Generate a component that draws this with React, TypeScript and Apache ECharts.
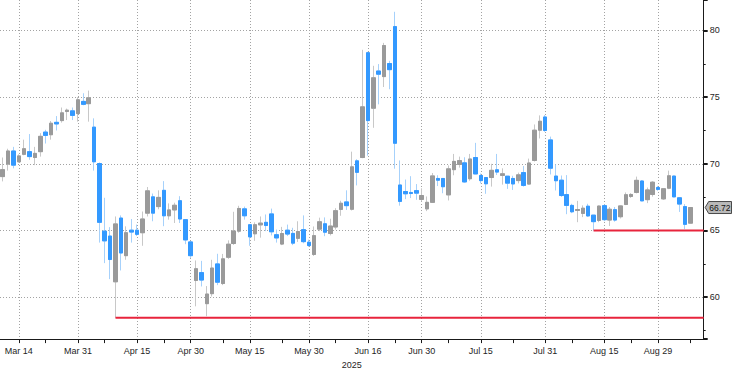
import React, { useEffect, useRef } from "react";
import * as echarts from "echarts";

const dates = [
  "2025-03-11","2025-03-12","2025-03-13","2025-03-14","2025-03-17","2025-03-18","2025-03-19","2025-03-20","2025-03-21","2025-03-24","2025-03-25","2025-03-26","2025-03-27","2025-03-28","2025-03-31",
  "2025-04-01","2025-04-02","2025-04-03","2025-04-04","2025-04-07","2025-04-08","2025-04-09","2025-04-10","2025-04-11","2025-04-14","2025-04-15","2025-04-16","2025-04-17","2025-04-21","2025-04-22","2025-04-23","2025-04-24","2025-04-25","2025-04-28","2025-04-29","2025-04-30",
  "2025-05-01","2025-05-02","2025-05-05","2025-05-06","2025-05-07","2025-05-08","2025-05-09","2025-05-12","2025-05-13","2025-05-14","2025-05-15","2025-05-16","2025-05-19","2025-05-20","2025-05-21","2025-05-22","2025-05-23","2025-05-26","2025-05-27","2025-05-28","2025-05-29","2025-05-30",
  "2025-06-02","2025-06-03","2025-06-04","2025-06-05","2025-06-06","2025-06-09","2025-06-10","2025-06-11","2025-06-12","2025-06-13","2025-06-16","2025-06-17","2025-06-18","2025-06-19","2025-06-20","2025-06-23","2025-06-24","2025-06-25","2025-06-26","2025-06-27","2025-06-30",
  "2025-07-01","2025-07-02","2025-07-03","2025-07-04","2025-07-07","2025-07-08","2025-07-09","2025-07-10","2025-07-11","2025-07-14","2025-07-15","2025-07-16","2025-07-17","2025-07-18","2025-07-21","2025-07-22","2025-07-23","2025-07-24","2025-07-25","2025-07-28","2025-07-29","2025-07-30","2025-07-31",
  "2025-08-01","2025-08-04","2025-08-05","2025-08-06","2025-08-07","2025-08-08","2025-08-11","2025-08-12","2025-08-13","2025-08-14","2025-08-15","2025-08-18","2025-08-19","2025-08-20","2025-08-21","2025-08-22","2025-08-25","2025-08-26","2025-08-27","2025-08-28","2025-08-29",
  "2025-09-01","2025-09-02","2025-09-03","2025-09-04","2025-09-05","2025-09-08",
];

const opens = [
  69.04,69.98,70.96,70.15,70.71,70.91,70.47,70.91,72.38,72.18,73.11,73.24,73.92,73.97,73.77,
  74.68,74.51,72.75,70.02,64.95,64.58,61.15,65.93,63.11,65.02,65.02,64.83,66.30,67.52,66.79,68.01,66.10,66.54,67.23,65.81,64.14,
  61.25,61.84,59.51,60.26,62.49,61.02,62.99,64.02,64.95,66.62,65.43,64.75,65.42,65.61,66.24,64.68,63.98,65.02,64.78,64.41,65.06,64.12,
  63.20,65.10,65.50,64.77,65.26,66.58,67.14,66.59,70.22,70.47,78.33,74.17,76.96,76.54,77.52,80.29,68.41,67.92,67.85,67.99,67.33,
  66.62,67.11,68.90,68.90,67.67,69.56,69.95,70.07,68.88,70.47,69.12,68.97,68.97,69.55,69.13,69.07,68.90,68.74,69.34,68.48,70.25,72.52,73.51,
  71.79,69.08,68.77,67.69,66.88,66.50,66.28,66.82,66.15,65.75,66.86,65.78,66.56,66.03,66.95,67.55,67.85,68.71,67.31,67.70,68.22,
  67.37,68.17,69.08,67.45,66.79,65.55,
];

const closes = [
  69.56,70.96,69.90,70.59,71.13,70.54,70.78,72.06,72.13,73.04,72.99,73.82,74.02,73.63,74.80,
  74.46,74.95,70.15,65.61,64.22,62.82,65.49,63.31,64.83,64.88,64.71,65.86,67.97,66.30,67.48,66.10,66.54,66.89,65.86,64.29,63.11,
  62.13,61.28,60.23,62.18,61.12,62.87,63.97,64.96,66.65,66.10,64.52,65.43,65.55,65.37,64.90,64.44,64.77,64.73,64.05,64.92,64.16,63.87,
  64.61,65.65,64.87,65.33,66.48,67.04,66.86,69.77,69.36,74.27,73.24,76.45,76.72,78.87,77.06,71.54,67.18,67.75,67.77,67.80,67.62,
  67.11,69.09,68.77,68.28,69.62,70.18,70.24,68.64,70.36,69.24,68.74,68.50,69.51,69.38,69.25,68.55,68.49,69.17,68.38,70.06,72.52,73.19,72.50,
  69.67,68.73,67.62,66.88,66.40,66.57,66.67,66.09,65.66,66.83,65.81,66.59,65.78,66.84,67.68,67.70,68.76,67.22,68.04,68.62,68.08,
  68.13,69.10,67.52,66.98,65.46,66.72,
];

const lows = [
  68.68,69.49,69.66,70.10,70.64,70.30,69.90,70.54,71.52,71.81,72.50,73.09,73.28,73.28,73.16,
  74.39,73.16,69.49,64.09,62.55,61.35,58.45,62.00,62.80,64.09,64.58,63.85,66.05,65.69,66.59,65.32,65.81,65.56,65.56,63.97,62.94,
  59.31,60.80,58.57,60.05,60.90,60.90,62.87,63.92,64.83,65.81,63.85,64.22,64.46,64.95,64.63,64.09,63.90,64.58,63.90,64.14,64.04,63.77,
  63.09,64.95,64.57,64.63,65.07,66.10,66.54,66.50,68.38,70.42,70.61,72.70,74.46,75.76,75.59,69.63,66.86,67.35,67.43,67.30,67.18,
  66.45,67.06,68.33,67.79,67.25,69.14,69.71,68.58,68.73,69.22,68.53,67.75,68.29,69.16,68.44,68.12,68.04,68.53,68.29,68.44,70.17,71.90,72.40,
  69.20,68.00,67.52,66.22,66.30,65.62,66.00,66.02,64.98,65.62,65.70,65.34,65.66,65.90,66.90,67.44,67.78,67.20,67.05,67.54,67.98,
  67.29,68.10,67.50,66.39,65.10,65.54,
];

const highs = [
  70.47,71.13,71.27,70.71,71.81,72.23,71.27,72.30,72.55,73.21,73.58,74.22,74.14,74.22,75.00,
  75.29,75.49,73.41,70.10,67.45,65.25,66.05,66.13,65.31,65.86,65.44,66.42,68.26,67.77,68.01,68.70,67.03,67.08,67.57,65.81,64.20,
  62.75,62.72,60.83,62.80,63.25,63.24,64.26,66.40,66.85,66.79,65.44,65.61,66.05,66.20,66.64,65.07,65.27,65.44,65.20,65.69,66.13,64.31,
  65.30,65.96,65.98,65.88,66.67,67.23,68.01,70.91,70.34,78.55,78.40,77.35,77.48,79.07,77.72,81.40,70.25,68.82,69.07,68.48,68.16,
  67.55,69.31,69.14,68.92,69.88,70.74,70.54,70.49,70.74,71.57,69.27,69.00,70.00,70.74,69.66,69.08,69.10,69.34,69.83,70.39,72.95,73.63,73.65,
  72.04,69.95,69.12,69.15,67.00,67.22,66.88,67.00,66.16,66.87,66.95,66.76,66.76,66.88,67.85,67.80,69.04,68.76,68.22,68.70,68.34,
  68.17,69.49,69.10,67.49,66.98,66.76,
];

// empty trading days after the last bar (axis runs a little past the data)
const padDates = ["2025-09-09", "2025-09-10"];

const labelDates = [
  "2025-03-14","2025-03-31","2025-04-15","2025-04-30","2025-05-15","2025-05-30",
  "2025-06-16","2025-06-30","2025-07-15","2025-07-31","2025-08-15","2025-08-29",
];
const minorTickDates = [
  "2025-03-21","2025-04-07","2025-04-23","2025-05-08","2025-05-23","2025-06-06",
  "2025-06-23","2025-07-07","2025-07-23","2025-08-07","2025-08-22","2025-09-08",
];
const yearLabel = "2025";

const supportStartDates = ["2025-04-09", "2025-08-13"];
const supportLevels = [58.45, 65.0];

const lastPrice = 66.72;

const MONTHS = ["Jan","Feb","Mar","Apr","May","Jun","Jul","Aug","Sep","Oct","Nov","Dec"];
const fmtDate = (s: string) => {
  const [, m, d] = s.split("-");
  return `${MONTHS[parseInt(m, 10) - 1]} ${parseInt(d, 10)}`;
};

const GREY_BODY = "#9a9a9a";
const GREY_WICK = "#c8c8c8";
const BLUE_BODY = "#3399ff";
const BLUE_WICK = "#a6d1fb";
const RED = "#e8243c";
const FONT = "Liberation Sans";
const TEXT = "#1e1e1e";
const GRIDC = "#a3a3a3";

export default function App() {
  const ref = useRef<HTMLDivElement>(null);

  useEffect(() => {
    if (!ref.current) return;
    const chart = echarts.init(ref.current, undefined, { renderer: "svg" });
    const categories = [...dates, ...padDates];
    const wickData = dates.map((_, i) => [opens[i], closes[i], lows[i], highs[i]]);
    const bodyData = dates.map((_, i) => [
      opens[i], closes[i], Math.min(opens[i], closes[i]), Math.max(opens[i], closes[i]),
    ]);

    chart.setOption({
      animation: false,
      backgroundColor: "#ffffff",
      grid: { left: -0.8, right: 28.3, top: 0, bottom: 29, containLabel: false },
      xAxis: {
        type: "category",
        data: categories,
        boundaryGap: true,
        name: yearLabel,
        nameLocation: "middle",
        nameGap: 20,
        nameTextStyle: { color: TEXT, fontSize: 9, fontFamily: FONT },
        axisLine: { show: true, lineStyle: { color: "#1a1a1a", width: 1 } },
        axisTick: {
          show: true,
          alignWithLabel: true,
          length: 4,
          interval: (_i: number, v: string) => labelDates.includes(v) || minorTickDates.includes(v),
          lineStyle: { color: "#1a1a1a" },
        },
        axisLabel: {
          interval: (_i: number, v: string) => labelDates.includes(v),
          formatter: (v: string) => fmtDate(v),
          color: TEXT,
          fontSize: 9,
          fontFamily: FONT,
          margin: 7,
        },
        splitLine: {
          show: true,
          alignWithLabel: true,
          interval: (_i: number, v: string) => labelDates.includes(v),
          lineStyle: { color: GRIDC, type: [1, 2], width: 1 },
        },
      },
      yAxis: {
        type: "value",
        position: "right",
        min: 56.852,
        max: 82.285,
        axisLine: { show: true, lineStyle: { color: "#1a1a1a", width: 1 } },
        axisTick: { show: true, length: 4, lineStyle: { color: "#1a1a1a", width: 2 } },
        minorTick: { show: true, splitNumber: 2, length: 2, lineStyle: { color: "#1a1a1a" } },
        axisLabel: {
          showMinLabel: false,
          showMaxLabel: false,
          color: TEXT,
          fontSize: 9,
          fontFamily: FONT,
          margin: 6,
        },
        splitLine: {
          show: true,
          showMinLine: false,
          showMaxLine: false,
          lineStyle: { color: GRIDC, type: [1, 2], width: 1 },
        },
      },
      series: [
        {
          type: "candlestick",
          data: wickData,
          barWidth: 4,
          silent: true,
          itemStyle: {
            color: GREY_BODY,
            color0: BLUE_BODY,
            borderColor: GREY_WICK,
            borderColor0: BLUE_WICK,
            borderWidth: 1,
          },
        },
        {
          type: "candlestick",
          data: bodyData,
          barWidth: 4,
          silent: true,
          itemStyle: {
            color: GREY_BODY,
            color0: BLUE_BODY,
            borderColor: GREY_BODY,
            borderColor0: BLUE_BODY,
            borderWidth: 1,
          },
        },
      ],
    });

    // Overlays positioned through the chart's own scales
    const xPx = (c: string) => chart.convertToPixel({ xAxisIndex: 0 }, categories.indexOf(c)) as number;
    const yPx = (v: number) => chart.convertToPixel({ yAxisIndex: 0 }, v) as number;
    const band = (chart.convertToPixel({ xAxisIndex: 0 }, 1) as number) - (chart.convertToPixel({ xAxisIndex: 0 }, 0) as number);
    const axisX = (chart.convertToPixel({ xAxisIndex: 0 }, categories.length - 1) as number) + band / 2;

    const graphics: any[] = supportStartDates.map((d, i) => ({
      type: "line",
      z: 50,
      silent: true,
      shape: { x1: xPx(d), y1: yPx(supportLevels[i]), x2: axisX, y2: yPx(supportLevels[i]) },
      style: { stroke: RED, lineWidth: 2 },
    }));
    const py = yPx(lastPrice);
    const w = chart.getWidth();
    graphics.push({
      type: "polygon",
      z: 60,
      silent: true,
      shape: {
        points: [
          [axisX + 1.5, py],
          [axisX + 5, py - 6],
          [w - 0.5, py - 6],
          [w - 0.5, py + 6],
          [axisX + 5, py + 6],
        ],
      },
      style: { fill: "#b9b9b9", stroke: "#4a4a4a", lineWidth: 1 },
    });
    graphics.push({
      type: "text",
      z: 61,
      silent: true,
      x: axisX + 5.5,
      y: py,
      style: {
        text: lastPrice.toFixed(2),
        fill: "#111",
        font: `8.5px ${FONT}`,
        verticalAlign: "middle",
        align: "left",
      },
    });
    chart.setOption({ graphic: graphics });

    return () => chart.dispose();
  }, []);

  return (
    <div
      ref={ref}
      style={{ position: "fixed", left: 0, top: 0, width: 732, height: 374, background: "#fff" }}
    />
  );
}
